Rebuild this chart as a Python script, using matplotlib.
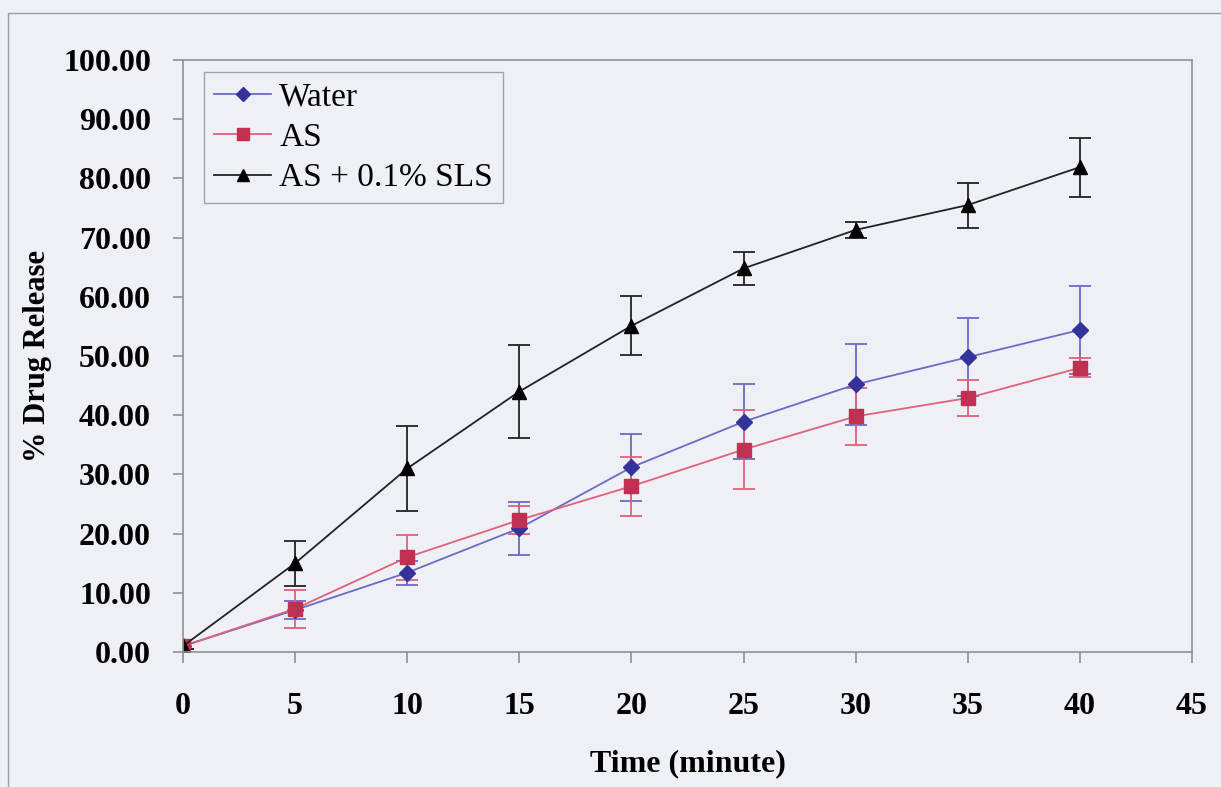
import matplotlib
matplotlib.use("Agg")
import matplotlib.pyplot as plt
from matplotlib.patches import Rectangle
from matplotlib.lines import Line2D

# ---- data ----
time = [0, 5, 10, 15, 20, 25, 30, 35, 40]
water = [1.0, 7.1, 13.4, 20.9, 31.2, 38.9, 45.2, 49.8, 54.4]
water_err = [0.5, 1.5, 2.0, 4.5, 5.7, 6.3, 6.8, 6.6, 7.4]
as_vals = [1.0, 7.3, 16.0, 22.3, 28.0, 34.2, 39.8, 42.9, 48.0]
as_err = [0.5, 3.2, 3.8, 2.3, 5.0, 6.7, 4.8, 3.0, 1.6]
sls = [1.0, 15.0, 31.0, 44.0, 55.1, 64.8, 71.3, 75.5, 81.9]
sls_err = [0.5, 3.8, 7.2, 7.8, 5.0, 2.8, 1.3, 3.8, 5.0]
labels = ["Water", "AS", "AS + 0.1% SLS"]
xticks = [0, 5, 10, 15, 20, 25, 30, 35, 40, 45]
yticks = [0, 10, 20, 30, 40, 50, 60, 70, 80, 90, 100]

bg = "#eef0f5"
plt.rcParams["font.family"] = ["Liberation Serif", "DejaVu Serif"]

fig = plt.figure(figsize=(12.21, 7.87), dpi=100, facecolor=bg)
ax = fig.add_axes([183/1221, 1-652/787, (1192-183)/1221, (652-60)/787])
ax.set_facecolor(bg)

# outer chart border
fig.patches.append(Rectangle((8/1221, -0.02), 1.2, 1-13/787+0.02, transform=fig.transFigure,
                             fill=False, edgecolor="#9a9ca3", linewidth=1.0))

series = [
    (water, water_err, "#333399", "#6a6ac8", "D", 8.5),
    (as_vals, as_err, "#c03050", "#e0607c", "s", 9.5),
    (sls, sls_err, "#000000", "#222222", "^", 10.5),
]
handles = []
for (vals, err, mc, lc, mk, ms), lab in zip(series, labels):
    ax.errorbar(time, vals, yerr=err, color=lc, ecolor=lc, elinewidth=1.3,
                capsize=8, capthick=1.3, linewidth=1.3, marker=mk, markersize=ms,
                markerfacecolor=mc, markeredgecolor=mc)
    handles.append(Line2D([], [], color=lc, linewidth=1.3, marker=mk, markersize=ms * 0.85,
                          markerfacecolor=mc, markeredgecolor=mc, label=lab))

ax.set_xlim(0, 45)
ax.set_ylim(0, 100)
ax.set_xticks(xticks)
ax.set_yticks(yticks)
ax.set_yticklabels([f"{v:.2f}" for v in yticks])
for s in ax.spines.values():
    s.set_color("#8e9096")
    s.set_linewidth(1.2)
ax.tick_params(axis="x", direction="out", length=8, width=1.2, color="#8e9096", pad=21, labelsize=23)
ax.tick_params(axis="y", direction="out", length=7, width=1.2, color="#8e9096", pad=16, labelsize=23)
for t in ax.get_xticklabels() + ax.get_yticklabels():
    t.set_fontweight("bold")

ax.set_xlabel("Time (minute)", fontsize=23, fontweight="bold", labelpad=20)
ax.set_ylabel("% Drug Release", fontsize=22, fontweight="bold", labelpad=8)

leg = ax.legend(handles=handles, loc="upper left", bbox_to_anchor=(0.021, 0.98), frameon=True,
                fancybox=False, prop={"size": 24}, handlelength=1.7, handletextpad=0.25,
                labelspacing=0.3, borderpad=0.3, borderaxespad=0)
leg.get_frame().set_edgecolor("#8e9096")
leg.get_frame().set_facecolor(bg)
leg.get_frame().set_linewidth(1.0)

fig.savefig("out.png", dpi=100, facecolor=bg)
